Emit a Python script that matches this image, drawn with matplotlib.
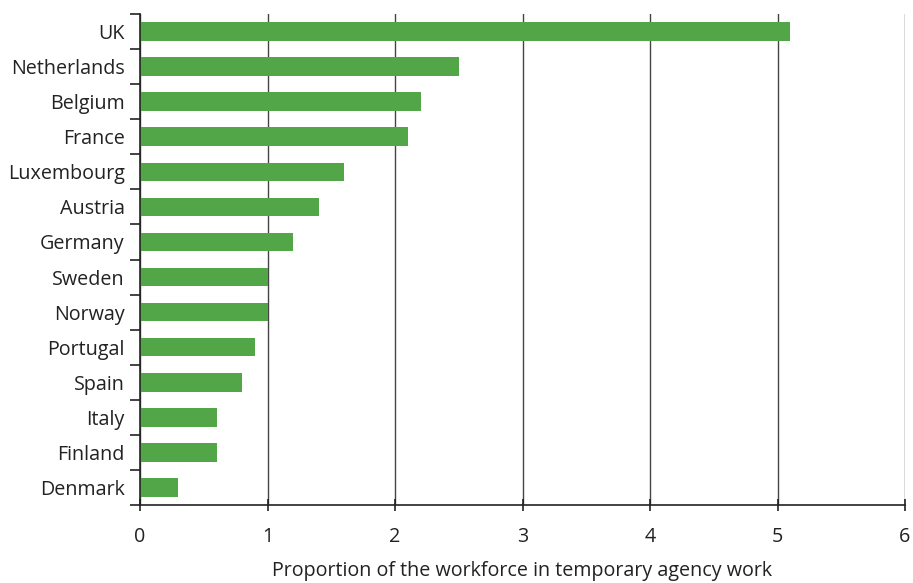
import matplotlib
matplotlib.use("Agg")
import matplotlib.pyplot as plt
import numpy as np

plt.rcParams['font.family'] = ['Open Sans', 'DejaVu Sans']

countries = ["UK", "Netherlands", "Belgium", "France", "Luxembourg", "Austria", "Germany",
             "Sweden", "Norway", "Portugal", "Spain", "Italy", "Finland", "Denmark"]
values = [5.1, 2.5, 2.2, 2.1, 1.6, 1.4, 1.2, 1.0, 1.0, 0.9, 0.8, 0.6, 0.6, 0.3]
xticks = [0, 1, 2, 3, 4, 5, 6]

fig = plt.figure(figsize=(9.13, 5.83), dpi=100)
ax = fig.add_axes([140/913, 1-505/583, (905-140)/913, (505-14)/583])

n = len(countries)
ypos = np.arange(n)[::-1]
ax.barh(ypos, values, height=0.53, color="#53a647", zorder=3)

fs = 14.2
ax.set_xlim(0, 6)
ax.set_ylim(-0.5, n-0.5)
ax.set_xticks(xticks)
ax.set_xticklabels([str(t) for t in xticks], fontsize=fs, color="#222222")
ax.set_yticks(ypos)
ax.set_yticklabels(countries, fontsize=fs, color="#222222")
ax.tick_params(axis='y', which='major', length=0, pad=11)
ax.set_yticks(np.arange(-0.5, n, 1.0), minor=True)
ax.tick_params(axis='y', which='minor', length=7, width=1.2, color="#222222", direction='out')
ax.tick_params(axis='x', which='major', length=8, width=1.2, color="#222222", direction='inout', pad=12)

ax.grid(axis='x', color="#444444", linewidth=1.0, zorder=1)
for s in ['top', 'right']:
    ax.spines[s].set_visible(False)
for s in ['left', 'bottom']:
    ax.spines[s].set_linewidth(1.2)
    ax.spines[s].set_color("#222222")
    ax.spines[s].set_zorder(4)

ax.set_xlabel("Proportion of the workforce in temporary agency work", fontsize=fs,
              color="#222222", labelpad=10)

fig.savefig("out.png", dpi=100)
